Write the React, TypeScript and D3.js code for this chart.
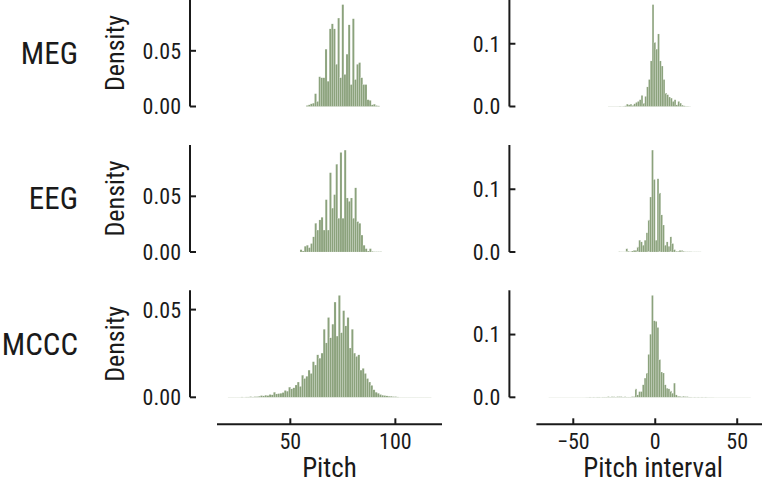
import React from "react";
import * as d3 from "d3";

// row names and histogram data (density per bin)
const rowLabels = ["MEG", "EEG", "MCCC"];

const pitchStart = [57.5, 54.6, 20.3];
const pitchWidth = [1, 1, 1.03];
const megPitch = [0.0009, 0.0015, 0.0024, 0.003, 0.0115, 0.0045, 0.0267, 0.0258, 0.0258, 0.0515, 0.0227, 0.0697, 0.0742, 0.0697, 0.0379, 0.0794, 0.0258, 0.0915, 0.0288, 0.047, 0.0733, 0.0197, 0.0788, 0.0242, 0.0379, 0.0394, 0.0258, 0.0197, 0.0197, 0.0061, 0.0055, 0.0015, 0.0021, 0.0009, 0.0006];
const eegPitch = [0.0021, 0.0009, 0.0052, 0.0061, 0.0039, 0.0076, 0.0136, 0.0258, 0.0197, 0.0288, 0.0312, 0.0197, 0.047, 0.0197, 0.0712, 0.0394, 0.0515, 0.0788, 0.0303, 0.0894, 0.0303, 0.0915, 0.0485, 0.0455, 0.0485, 0.0303, 0.0576, 0.0273, 0.0258, 0.0152, 0.0061, 0.003, 0.0009, 0.003, 0.0006, 0.0003, 0.0003, 0.0003, 0.0003];
const mcccPitch = [0.0001, 0.0001, 0.0001, 0.0001, 0.0001, 0.0001, 0.0002, 0.0001, 0.0002, 0.0002, 0.0004, 0.0002, 0.0004, 0.0004, 0.0006, 0.001, 0.0008, 0.0012, 0.001, 0.0016, 0.0014, 0.0029, 0.0019, 0.0021, 0.0023, 0.0027, 0.0039, 0.0035, 0.0058, 0.0048, 0.0054, 0.007, 0.0087, 0.0062, 0.0126, 0.0107, 0.012, 0.0155, 0.0136, 0.0203, 0.0184, 0.0242, 0.0223, 0.0252, 0.0388, 0.031, 0.0455, 0.0339, 0.0417, 0.0543, 0.0349, 0.0581, 0.0368, 0.0494, 0.0407, 0.0455, 0.0281, 0.0388, 0.0252, 0.0233, 0.0242, 0.0155, 0.0165, 0.0136, 0.0107, 0.0087, 0.0068, 0.0043, 0.0029, 0.0023, 0.0016, 0.0012, 0.001, 0.0008, 0.0006, 0.0006, 0.0004, 0.0004, 0.0002, 0.0001, 0.0001, 0.0001, 0.0001, 0.0001, 0.0001, 0.0001, 0.0001, 0.0001, 0.0001, 0.0001, 0.0001, 0.0001, 0.0001, 0.0001];

const intervalStart = [-28.8, -22.4, -65];
const intervalWidth = 1.12;
const megInterval = [0.0003, 0.0003, 0.0003, 0.0003, 0.0003, 0.0003, 0.0005, 0.0003, 0.0005, 0.0011, 0.0038, 0.0027, 0.0038, 0.0022, 0.0043, 0.0065, 0.0081, 0.0108, 0.0177, 0.0054, 0.0161, 0.0312, 0.043, 0.0726, 0.1624, 0.1022, 0.0914, 0.1156, 0.0726, 0.0645, 0.043, 0.0215, 0.0188, 0.0151, 0.0134, 0.0081, 0.0108, 0.0027, 0.0081, 0.0054, 0.0022, 0.0011, 0.0005, 0.0005, 0.0003];
const eegInterval = [0.0005, 0.0003, 0.0003, 0.0003, 0.0054, 0.0011, 0.0005, 0.0016, 0.0027, 0.0027, 0.0081, 0.0188, 0.0161, 0.0108, 0.0188, 0.0306, 0.0511, 0.0876, 0.1624, 0.1156, 0.0188, 0.1167, 0.0941, 0.0591, 0.043, 0.0108, 0.0161, 0.0091, 0.0242, 0.0134, 0.0038, 0.0011, 0.0011, 0.0027, 0.0027, 0.0011, 0.0005, 0.0005, 0.0005, 0.0005, 0.0003, 0.0003, 0.0003, 0.0003, 0.0003];
const mcccInterval = [
  0.0002, 0.0002, 0.0002, 0.0002, 0.0002, 0.0002, 0.0002, 0.0002, 0.0002, 0.0002, 0.0002, 0.0002, 0.0002, 0.0002, 0.0002, 0.0002, 0.0002, 0.0002, 0.0002, 0.0002,
  0.0003, 0.0003, 0.0005, 0.0003, 0.0005, 0.0003, 0.0005, 0.0005, 0.0003, 0.0005, 0.0005, 0.0005, 0.0011, 0.0005, 0.0011, 0.0011, 0.0005, 0.0011,
  0.0011, 0.0011, 0.0005, 0.0011, 0.0005, 0.0005, 0.0005, 0.0011, 0.0011,
  0.0134, 0.0038, 0.0091, 0.0091, 0.0199, 0.0306, 0.0387, 0.0683, 0.1005, 0.1624, 0.122, 0.121, 0.1113, 0.0602, 0.0403, 0.0387, 0.0199, 0.0145, 0.0134, 0.0102, 0.0065, 0.0226, 0.0038,
  0.0016, 0.0016, 0.0011, 0.0016, 0.0011, 0.0011, 0.0005,
  0.0005, 0.0003, 0.0005, 0.0003, 0.0005, 0.0003, 0.0005, 0.0003, 0.0005, 0.0003, 0.0003, 0.0003, 0.0003,
  0.0002, 0.0002, 0.0002, 0.0002, 0.0002, 0.0002, 0.0002, 0.0002, 0.0002, 0.0002, 0.0002, 0.0002, 0.0002, 0.0002, 0.0002, 0.0002, 0.0002, 0.0002, 0.0002, 0.0002,
];

const pitchDomain = [15.1, 122.2];
const intervalDomain = [-72.5, 70];
const pitchTicks = [50, 100];
const intervalTicks = [-50, 0, 50];
const pitchDensityTicks = [0, 0.05];
const intervalDensityTicks = [0, 0.1];

const pitchSeries = [megPitch, eegPitch, mcccPitch];
const intervalSeries = [megInterval, eegInterval, mcccInterval];

const W = 762;
const H = 489;
const rowBase = [106.5, 252, 397.3];
const rowH = 107;
const offset = 27;
const barColor = "#8ba27c";
const ink = "#1a1a1a";
const font = "'Roboto Condensed', Roboto, sans-serif";

const Panel = ({ values, start, width, x, base, yTicks, fmt, showX, xTicks, xLabel }) => {
  const y = d3
    .scaleLinear()
    .domain([0, d3.max(values) * 1.05])
    .range([base, base - rowH]);
  const [x0, x1] = x.range();
  const spineX = x0 - offset;
  const axisY = base + offset;
  return (
    <g>
      {values.map((v, i) => {
        const a = x(start + i * width);
        const b = x(start + (i + 1) * width);
        return (
          <rect
            key={i}
            x={a}
            y={y(v)}
            width={b - a}
            height={base - y(v)}
            fill={barColor}
            stroke="#fff"
            strokeOpacity={0.55}
            strokeWidth={0.3}
          />
        );
      })}
      <line x1={spineX} x2={spineX} y1={y.range()[1]} y2={base} stroke={ink} strokeWidth={2} />
      {yTicks.map((t) => (
        <g key={t}>
          <line x1={spineX} x2={spineX + 6} y1={y(t)} y2={y(t)} stroke={ink} strokeWidth={2} />
          <text x={spineX - 9} y={y(t)} dy="0.36em" textAnchor="end" fontSize={22} fill={ink}>
            {fmt(t)}
          </text>
        </g>
      ))}
      {showX && (
        <g>
          <line x1={x0} x2={x1} y1={axisY} y2={axisY} stroke={ink} strokeWidth={2} />
          {xTicks.map((t) => (
            <g key={t}>
              <line x1={x(t)} x2={x(t)} y1={axisY} y2={axisY - 6} stroke={ink} strokeWidth={2} />
              <text x={x(t)} y={axisY + 25} textAnchor="middle" fontSize={22} fill={ink}>
                {t < 0 ? "\u2212" + Math.abs(t) : t}
              </text>
            </g>
          ))}
          <text x={(x0 + x1) / 2} y={axisY + 53} textAnchor="middle" fontSize={27} fill={ink}>
            {xLabel}
          </text>
        </g>
      )}
    </g>
  );
};

const App = () => {
  const xPitch = d3.scaleLinear().domain(pitchDomain).range([217, 442]);
  const xInterval = d3.scaleLinear().domain(intervalDomain).range([536.4, 770]);

  return (
    <svg
      width={W}
      height={H}
      style={{ position: "absolute", left: 0, top: 0, background: "#fff" }}
      fontFamily={font}
    >
      {rowLabels.map((label, r) => {
        const base = rowBase[r];
        const mid = base - rowH / 2;
        return (
          <g key={label}>
            <text x={78} y={mid} dy="0.35em" textAnchor="end" fontSize={31} fill={ink}>
              {label}
            </text>
            <text
              transform={`translate(124,${mid}) rotate(-90)`}
              textAnchor="middle"
              fontSize={26}
              fill={ink}
            >
              Density
            </text>
            <Panel
              values={pitchSeries[r]}
              start={pitchStart[r]}
              width={pitchWidth[r]}
              x={xPitch}
              base={base}
              yTicks={pitchDensityTicks}
              fmt={d3.format(".2f")}
              showX={r === 2}
              xTicks={pitchTicks}
              xLabel="Pitch"
            />
            <Panel
              values={intervalSeries[r]}
              start={intervalStart[r]}
              width={intervalWidth}
              x={xInterval}
              base={base}
              yTicks={intervalDensityTicks}
              fmt={d3.format(".1f")}
              showX={r === 2}
              xTicks={intervalTicks}
              xLabel="Pitch interval"
            />
          </g>
        );
      })}
    </svg>
  );
};

export default App;
